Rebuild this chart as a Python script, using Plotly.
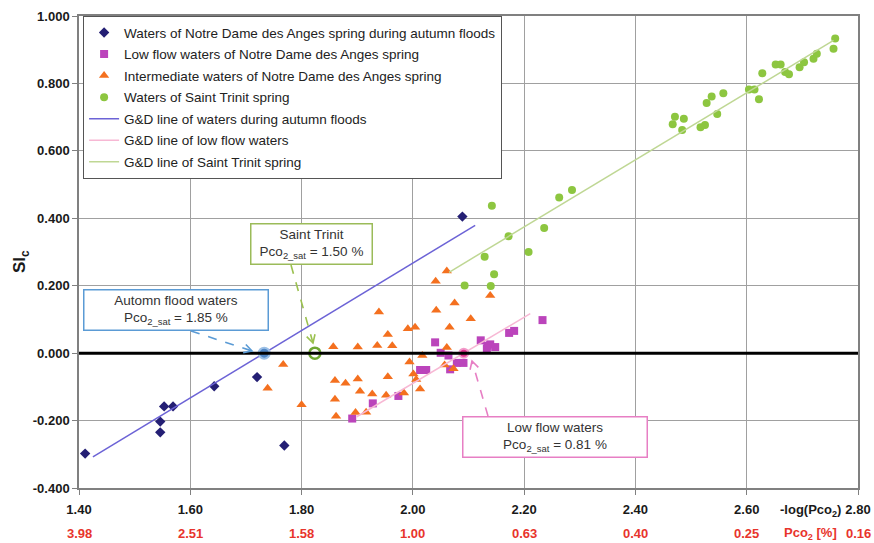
import numpy as np
import plotly.graph_objects as go

# ---- data: -log(Pco2) (x) and calcite saturation index SIc (y) ----
flood_x = [1.411, 1.546, 1.546, 1.553, 1.569, 1.643, 1.720, 1.769, 2.089]
flood_y = [-0.298, -0.203, -0.235, -0.158, -0.158, -0.098, -0.071, -0.274, 0.405]

lowflow_x = [1.891, 1.928, 1.974, 2.013, 2.024, 2.040, 2.050, 2.064, 2.067, 2.079,
             2.091, 2.122, 2.134, 2.139, 2.148, 2.133, 2.173, 2.182, 2.233]
lowflow_y = [-0.194, -0.149, -0.127, -0.050, -0.050, 0.032, 0.001, -0.007, -0.048, -0.029,
             -0.029, 0.038, 0.022, 0.026, 0.018, 0.013, 0.060, 0.066, 0.098]

inter_x = [2.061, 2.041, 2.139, 1.939, 2.042, 2.075, 2.104, 1.991, 2.004, 2.066,
           1.955, 1.857, 1.901, 1.936, 1.963, 2.017, 1.994, 2.057, 2.073, 2.001,
           2.006, 2.013, 1.955, 1.860, 1.879, 1.901, 1.905, 1.927, 1.952, 1.984,
           1.860, 1.897, 1.916, 1.862, 1.800, 1.767, 1.739, 2.061]
inter_y = [0.244, 0.213, 0.171, 0.122, 0.127, 0.149, 0.102, 0.072, 0.077, 0.077,
           0.055, 0.019, 0.018, 0.023, 0.022, -0.007, -0.026, -0.035, -0.046, -0.062,
           -0.078, -0.106, -0.070, -0.081, -0.089, -0.077, -0.113, -0.121, -0.125, -0.118,
           -0.137, -0.176, -0.175, -0.187, -0.153, -0.034, -0.104, 0.017]

trinit_x = [2.142, 2.263, 2.286, 2.236, 2.172, 2.208, 2.129, 2.146, 2.093, 2.140,
            2.467, 2.471, 2.487, 2.484, 2.517, 2.525, 2.528, 2.537, 2.547, 2.558,
            2.604, 2.614, 2.622, 2.628, 2.652, 2.661, 2.669, 2.676, 2.695, 2.703,
            2.720, 2.726, 2.759, 2.756]
trinit_y = [0.437, 0.462, 0.484, 0.371, 0.347, 0.300, 0.286, 0.234, 0.201, 0.199,
            0.679, 0.701, 0.695, 0.662, 0.670, 0.677, 0.742, 0.761, 0.709, 0.771,
            0.782, 0.782, 0.753, 0.830, 0.856, 0.856, 0.834, 0.827, 0.848, 0.863,
            0.873, 0.888, 0.933, 0.903]

# Saturation CO2 partial pressures (%) where each G&D line crosses SIc = 0
pco2_sat = {"flood": 1.85, "trinit": 1.50, "lowflow": 0.81}
# slopes and x extents of the G&D lines
gd_slope = {"flood": 1.00, "trinit": 0.995, "lowflow": 0.98}
gd_range = {"flood": (1.425, 2.112), "trinit": (2.065, 2.756), "lowflow": (1.899, 2.211)}

x_ticks = [1.40, 1.60, 1.80, 2.00, 2.20, 2.40, 2.60, 2.80]
y_ticks = [-0.4, -0.2, 0.0, 0.2, 0.4, 0.6, 0.8, 1.0]

# ---- figure geometry ----
W, H = 874, 543
ML, MR, MT, MB = 79, 16, 16, 55
XR, YR = (1.40, 2.80), (-0.40, 1.00)
px_x = (W - ML - MR) / (XR[1] - XR[0])
px_y = (H - MT - MB) / (YR[1] - YR[0])

FONT = "Liberation Sans, Arial, sans-serif"
C_FLOOD, C_LOW, C_INT, C_TRI = "#241f74", "#bb44bb", "#f4701f", "#8dc640"
C_LFLOOD, C_LLOW, C_LTRI = "#6c63d6", "#f7b8d4", "#bfd794"
C_BOXB, C_BOXG, C_BOXP = "#5b9bd5", "#9bbb59", "#e77fc4"


def x0_of(key):
    return -np.log10(pco2_sat[key] / 100.0)


def gd_line(key):
    xs = np.array(gd_range[key])
    return xs, gd_slope[key] * (xs - x0_of(key))


fig = go.Figure()

fig.add_trace(go.Scatter(x=flood_x, y=flood_y, mode="markers",
                         name="Waters of Notre Dame des Anges spring during autumn floods",
                         marker=dict(symbol="diamond", size=8, color=C_FLOOD)))
fig.add_trace(go.Scatter(x=lowflow_x, y=lowflow_y, mode="markers",
                         name="Low flow waters of Notre Dame des Anges spring",
                         marker=dict(symbol="square", size=8, color=C_LOW)))
fig.add_trace(go.Scatter(x=inter_x, y=inter_y, mode="markers",
                         name="Intermediate waters of Notre Dame des Anges spring",
                         marker=dict(symbol="triangle-up", size=9, color=C_INT)))
fig.add_trace(go.Scatter(x=trinit_x, y=trinit_y, mode="markers",
                         name="Waters of Saint Trinit spring",
                         marker=dict(symbol="circle", size=8, color=C_TRI)))

for key, name, col in [("flood", "G&D line of waters during autumn floods", C_LFLOOD),
                       ("lowflow", "G&D line of low flow waters", C_LLOW),
                       ("trinit", "G&D line of Saint Trinit spring", C_LTRI)]:
    lx, ly = gd_line(key)
    fig.add_trace(go.Scatter(x=lx, y=ly, mode="lines", name=name,
                             line=dict(color=col, width=1.5)))

for i, tr in enumerate(fig.data):
    tr.legendgroup = f"g{i}"

# zero line
fig.add_shape(type="line", xref="x", yref="y", x0=XR[0], x1=XR[1], y0=0, y1=0,
              line=dict(color="black", width=3), layer="above")

# intercept points
fig.add_trace(go.Scatter(x=[x0_of("flood")], y=[0], mode="markers", showlegend=False,
                         marker=dict(size=11, color="#4f86c6", line=dict(color="#9cc0e6", width=2))))
fig.add_trace(go.Scatter(x=[x0_of("trinit")], y=[0], mode="markers", showlegend=False,
                         marker=dict(size=11, color="white", line=dict(color="#6fa832", width=2.5))))
fig.add_trace(go.Scatter(x=[x0_of("lowflow")], y=[0], mode="markers", showlegend=False,
                         marker=dict(size=9, color="#e0308e", line=dict(color="#f29ac9", width=2))))


def dashed_arrow(xs, ys, xe, ye, color):
    fig.add_shape(type="line", xref="x", yref="y", x0=xs, y0=ys, x1=xe, y1=ye,
                  line=dict(color=color, width=1.6, dash="dash"))
    # open arrowhead built in pixel space
    dx, dy = (xe - xs) * px_x, (ye - ys) * px_y
    ang = np.arctan2(dy, dx)
    L = 9
    pts = []
    for a in (ang + np.pi - 0.5, ang + np.pi + 0.5):
        pts.append((xe + L * np.cos(a) / px_x, ye + L * np.sin(a) / px_y))
    path = (f"M {pts[0][0]},{pts[0][1]} L {xe},{ye} L {pts[1][0]},{pts[1][1]}")
    fig.add_shape(type="path", xref="x", yref="y", path=path,
                  line=dict(color=color, width=1.6))


def pix2data(px, py):
    return XR[0] + (px - ML) / px_x, YR[1] - (py - MT) / px_y


def text_box(cx, cy, w, h, text, color):
    x, y = pix2data(cx, cy)
    fig.add_annotation(x=x, y=y, xref="x", yref="y", text=text, showarrow=False,
                       width=w, height=h, bgcolor="white", bordercolor=color,
                       borderwidth=1.5, borderpad=0,
                       font=dict(family=FONT, size=13.5, color="#333333"))


sub = "Pco<sub>2_sat</sub>"
text_box(175.5, 309.5, 183, 39, f"Automn flood waters<br>{sub} = 1.85 %", C_BOXB)
text_box(311, 243.5, 120, 39, f"Saint Trinit<br>{sub} = 1.50 %", C_BOXG)
text_box(554.5, 436.5, 183, 39, f"Low flow waters<br>{sub} = 0.81 %", C_BOXP)

dashed_arrow(*pix2data(191, 331), *pix2data(252, 351), C_BOXB)
dashed_arrow(*pix2data(291, 265), *pix2data(313, 343), "#9bc14f")
dashed_arrow(*pix2data(488, 416), *pix2data(472, 361), C_BOXP)

# secondary scale: Pco2 (%) under each -log(Pco2) tick
pco2_labels = [f"{100 * 10 ** (-v):.2f}" for v in x_ticks]
for v, lab in zip(x_ticks, pco2_labels):
    fig.add_annotation(x=v, y=0, xref="x", yref="paper", yanchor="middle", yshift=-45,
                       showarrow=False, text=f"<b>{lab}</b>",
                       font=dict(family=FONT, size=13, color="#e8342c"))
fig.add_annotation(x=2.715, y=0, xref="x", yref="paper", yanchor="middle", yshift=-45,
                   showarrow=False, text="<b>Pco<sub>2</sub> [%]</b>",
                   font=dict(family=FONT, size=13, color="#e8342c"))
fig.add_annotation(x=2.715, y=0, xref="x", yref="paper", yanchor="middle", yshift=-22,
                   showarrow=False, text="<b>-log(Pco<sub>2</sub>)</b>",
                   font=dict(family=FONT, size=13, color="#1a1a1a"))

# y-axis title
fig.add_annotation(x=0, y=0.5, xref="paper", yref="paper", xanchor="center", yanchor="middle",
                   xshift=-58, yshift=-10, textangle=-90, showarrow=False,
                   text="<b>SI<sub>c</sub></b>", font=dict(family=FONT, size=17, color="#1a1a1a"))

axis_common = dict(showgrid=True, gridcolor="#a0a0a0", gridwidth=1.3,
                   showline=True, linecolor="#808080", linewidth=1.5, mirror=True,
                   ticks="outside", ticklen=5, tickcolor="#808080", zeroline=False,
                   automargin=False,
                   tickfont=dict(family=FONT, size=13, color="#1a1a1a", weight="bold"))

fig.update_layout(
    width=W, height=H, margin=dict(l=ML, r=MR, t=MT, b=MB),
    paper_bgcolor="white", plot_bgcolor="white",
    font=dict(family=FONT),
    showlegend=True,
    legend=dict(x=0.005, y=1.0, xanchor="left", yanchor="top",
                bgcolor="white", bordercolor="#555555", borderwidth=1.2,
                font=dict(family=FONT, size=13.5, color="#222222"),
                traceorder="grouped", tracegroupgap=1, itemwidth=30),
    xaxis=dict(range=list(XR), tickvals=x_ticks, ticktext=[f"{v:.2f}" for v in x_ticks],
               ticklabelstandoff=4, **axis_common),
    yaxis=dict(range=list(YR), tickvals=y_ticks, ticktext=[f"{v:.3f}" for v in y_ticks],
               **axis_common),
)

fig.write_html("out.html")
